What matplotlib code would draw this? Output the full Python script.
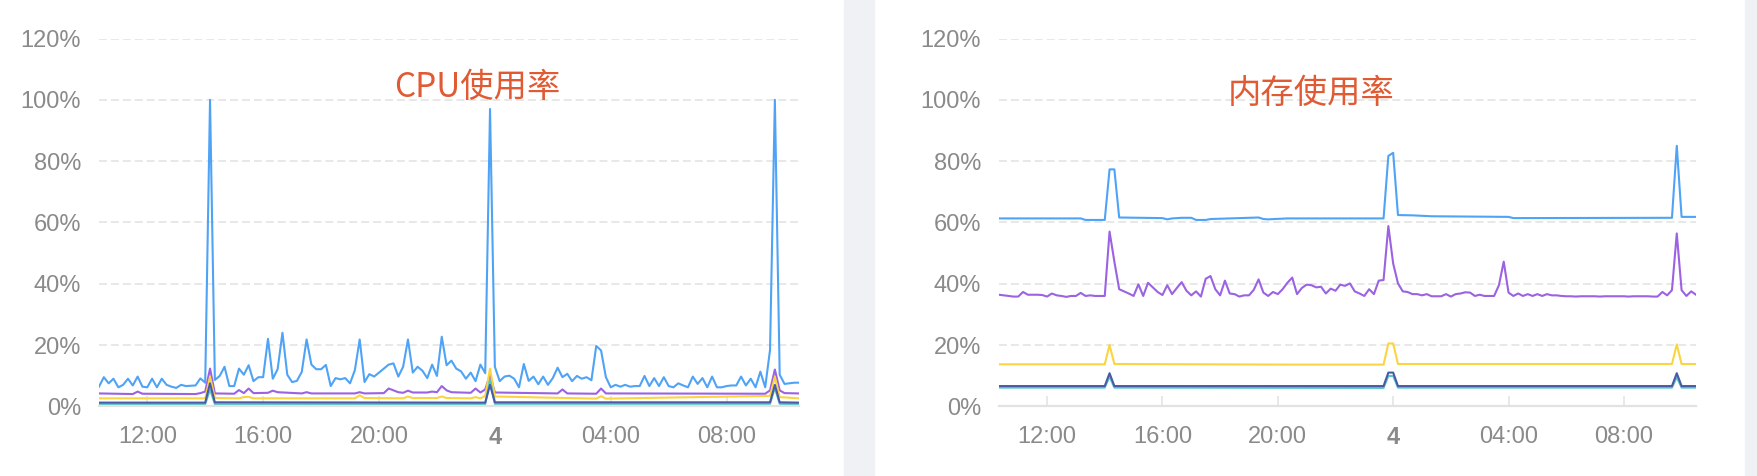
import numpy as np
import matplotlib
matplotlib.use("Agg")
import matplotlib.pyplot as plt
from matplotlib.patches import Rectangle

plt.rcParams['font.family'] = ['Liberation Sans', 'Noto Sans CJK SC', 'DejaVu Sans']

# x: minutos desde las 10:20, una muestra cada 10 min (k = 0..145)
paso = 10
n_muestras = 146

tick_min = [100, 340, 580, 820, 1060, 1300]
tick_txt = ["12:00", "16:00", "20:00", "4", "04:00", "08:00"]
y_ticks = [0, 20, 40, 60, 80, 100, 120]

# ---------------- CPU使用率 ----------------
cpu_azul = [
    6.4, 9.5, 7.5, 9.0, 6.2, 7.0, 9.0, 6.8, 9.7, 6.4,
    6.2, 9.0, 6.2, 9.0, 7.0, 6.4, 6.0, 7.0, 6.6, 6.7,
    6.8, 9.1, 7.7, 100, 8.6, 9.9, 12.9, 6.6, 6.6, 12.3,
    10.3, 13.4, 8.2, 9.5, 9.5, 22.0, 9.0, 12.1, 24.0, 10.3,
    7.9, 8.3, 11.2, 21.8, 13.6, 12.1, 12.1, 13.5, 6.6, 9.2,
    8.8, 9.2, 7.5, 11.8, 21.8, 7.9, 10.5, 9.7, 11.0, 12.3,
    13.6, 14.0, 9.7, 12.9, 21.8, 11.0, 12.9, 11.6, 9.2, 13.6,
    9.9, 22.7, 13.4, 14.9, 12.3, 11.4, 9.0, 11.0, 8.2, 13.6,
    10.8, 97.0, 12.9, 8.2, 9.7, 10.0, 9.0, 6.2, 13.8, 8.3,
    9.7, 7.2, 9.7, 7.0, 9.2, 12.6, 9.5, 10.6, 8.2, 9.9,
    9.0, 9.5, 8.5, 19.7, 18.2, 9.5, 6.2, 7.0, 6.4, 7.0,
    6.4, 6.6, 6.6, 9.9, 6.6, 9.2, 6.6, 9.5, 6.6, 6.2,
    7.5, 6.8, 6.2, 9.7, 7.3, 9.2, 6.2, 9.7, 6.2, 6.2,
    6.6, 6.8, 6.8, 9.7, 6.8, 9.0, 6.2, 11.3, 6.2, 18.4,
    100, 10.3, 7.3, 7.5, 7.7, 7.7,
]

cpu_morado_k = [0, 7, 8, 9, 20, 21, 22, 23, 24, 28, 29, 30, 31, 32, 35, 36, 37,
                42, 43, 44, 53, 54, 55, 59, 60, 61, 62, 63, 64, 65, 68, 69, 70,
                71, 72, 73, 77, 78, 79, 80, 81, 82, 95, 96, 97, 103, 104, 105,
                138, 139, 140, 141, 142, 145]
cpu_morado = [4.2, 4.0, 4.8, 4.1, 4.0, 4.3, 4.8, 12.3, 4.2, 4.1, 5.3, 4.3, 5.8,
              4.3, 4.4, 5.1, 4.6, 4.2, 4.6, 4.2, 4.2, 4.6, 4.2, 4.3, 5.8, 5.2,
              4.6, 4.4, 5.1, 4.5, 4.5, 4.8, 4.6, 6.6, 5.2, 4.6, 4.4, 5.8, 4.5,
              5.5, 10.3, 4.5, 4.2, 5.5, 4.2, 4.1, 5.8, 4.2, 4.1, 5.2, 12.0, 5.2,
              4.3, 4.2]

cpu_amarillo_k = [0, 22, 23, 24, 29, 30, 31, 32, 53, 54, 55, 63, 64, 65, 70, 71,
                  72, 77, 78, 79, 80, 81, 82, 103, 104, 105, 139, 140, 141, 145]
cpu_amarillo = [2.6, 2.6, 9.6, 2.7, 2.6, 3.0, 3.1, 2.6, 2.6, 3.6, 2.7, 2.6, 3.2,
                2.7, 2.7, 3.2, 2.7, 2.6, 3.0, 2.6, 3.4, 12.3, 3.2, 2.5, 3.3, 2.5,
                3.4, 9.6, 3.0, 2.6]

cpu_bajo_k = [0, 22, 23, 24, 80, 81, 82, 139, 140, 141, 145]
cpu_marino = [1.2, 1.2, 7.5, 1.3, 1.2, 7.0, 1.3, 1.3, 7.0, 1.3, 1.2]
cpu_turquesa = [0.7, 0.7, 5.5, 0.7, 0.7, 8.6, 0.8, 0.8, 6.0, 0.8, 0.7]

# ---------------- 内存使用率 ----------------
mem_azul_k = [0, 17, 18, 22, 23, 24, 25, 34, 35, 36, 38, 40, 41, 43, 44, 54, 55,
              56, 60, 80, 81, 82, 83, 86, 90, 106, 107, 140, 141, 142, 145]
mem_azul = [61.3, 61.3, 60.8, 60.8, 77.3, 77.3, 61.6, 61.4, 61.0, 61.3, 61.5,
            61.5, 60.8, 60.8, 61.1, 61.6, 61.1, 61.0, 61.3, 61.3, 81.7, 82.7,
            62.4, 62.3, 62.0, 61.8, 61.4, 61.5, 85.0, 61.8, 61.8]

mem_morado = [
    36.4, 36.2, 36.0, 35.8, 35.8, 37.3, 36.4, 36.4, 36.4, 36.3,
    35.8, 36.8, 36.2, 36.0, 35.7, 36.0, 36.0, 37.0, 36.0, 36.2,
    36.0, 36.0, 36.0, 57.0, 47.2, 38.2, 37.5, 36.8, 36.0, 39.8,
    36.0, 40.3, 38.8, 37.3, 36.3, 39.5, 36.6, 38.6, 40.5, 37.7,
    36.2, 37.5, 35.8, 41.6, 42.5, 38.2, 36.2, 41.0, 36.8,
    36.6, 35.8, 36.2, 36.2, 38.0, 41.4, 37.1, 36.0, 37.3, 36.6,
    38.2, 40.3, 42.0, 36.6, 38.6, 39.7, 39.5, 38.8, 39.0, 36.8,
    38.4, 37.7, 39.7, 39.3, 40.1, 37.5, 36.8, 36.0, 38.2, 36.6,
    41.0, 41.2, 58.8, 46.6, 40.1, 37.5, 37.3, 36.6, 36.6, 36.2,
    36.6, 35.9, 35.9, 35.9, 36.6, 35.8, 36.6, 36.8, 37.2,
    37.1, 36.0, 36.4, 36.0, 36.0, 36.0, 39.5, 47.2, 37.1, 36.0,
    36.8, 36.0, 36.6, 36.0, 36.6, 36.0, 36.6, 36.2, 36.2, 36.0,
    35.9, 35.9, 35.8, 35.9, 35.9, 35.9, 35.9, 35.8, 35.9, 35.9,
    35.9, 35.9, 35.9, 35.8, 35.9, 35.9, 35.9, 35.9, 35.8, 35.8,
    37.3, 36.2, 37.9, 56.4, 37.9, 36.0, 37.5, 36.4,
]

mem_amarillo_k = [0, 22, 23, 24, 60, 80, 81, 82, 83, 140, 141, 142, 145]
mem_amarillo = [13.7, 13.7, 20.0, 13.8, 13.6, 13.6, 20.5, 20.5, 13.8, 13.8,
                20.2, 13.8, 13.8]

mem_bajo_k = [0, 22, 23, 24, 80, 81, 82, 83, 140, 141, 142, 145]
mem_marino = [6.6, 6.6, 10.8, 6.6, 6.6, 11.0, 11.0, 6.6, 6.6, 10.8, 6.6, 6.6]
mem_turquesa = [6.1, 6.1, 9.7, 6.1, 6.0, 9.9, 9.9, 6.1, 6.1, 9.5, 6.1, 6.1]

# colores
c_azul = "#4fa3f7"
c_morado = "#9b62e2"
c_amarillo = "#fad540"
c_marino = "#4a5aa6"
c_turquesa = "#56c6c8"
c_gris = "#8a8a8a"
c_grid = "#e2e2e2"
c_titulo = "#e05a33"

W, H = 1758, 476
fig = plt.figure(figsize=(W / 100, H / 100), dpi=100)
fig.patch.set_facecolor("white")

# franjas grises entre paneles
fig.patches.append(Rectangle((844 / W, 0), 30 / W, 1, transform=fig.transFigure,
                             color="#eff1f5", zorder=0))
fig.patches.append(Rectangle((1745 / W, 0), 13 / W, 1, transform=fig.transFigure,
                             color="#eff1f5", zorder=0))

y0 = (H - 406.3) / H
y1 = (H - 38.5) / H


def kx(k):
    return np.array(k) * paso


def preparar(ax):
    ax.set_xlim(0, (n_muestras - 1) * paso)
    ax.set_ylim(0, 120)
    ax.set_yticks(y_ticks)
    ax.set_yticklabels([f"{v}%" for v in y_ticks])
    ax.set_xticks(tick_min)
    ax.set_xticklabels(tick_txt)
    for lab in ax.get_xticklabels():
        if lab.get_text() == "4":
            lab.set_fontweight("bold")
    ax.yaxis.grid(True, color=c_grid, lw=1.1, linestyle=(0, (5.2, 2.6)))
    ax.set_axisbelow(True)
    for s in ["top", "right", "left"]:
        ax.spines[s].set_visible(False)
    ax.spines["bottom"].set_color(c_grid)
    ax.spines["bottom"].set_linewidth(1.6)
    ax.tick_params(axis="x", direction="in", length=7, width=1.1, color=c_grid,
                   pad=14.5, labelsize=17, labelcolor=c_gris)
    ax.tick_params(axis="y", length=0, pad=13, labelsize=17, labelcolor=c_gris)


# panel CPU
ax1 = fig.add_axes([99 / W, y0, 700 / W, y1 - y0])
preparar(ax1)
ax1.plot(kx(range(n_muestras)), cpu_azul, color=c_azul, lw=1.5)
ax1.plot(kx(cpu_morado_k), cpu_morado, color=c_morado, lw=1.5)
ax1.plot(kx(cpu_amarillo_k), cpu_amarillo, color=c_amarillo, lw=1.5)
ax1.plot(kx(cpu_bajo_k), cpu_turquesa, color=c_turquesa, lw=1.5)
ax1.plot(kx(cpu_bajo_k), cpu_marino, color=c_marino, lw=1.5)

# panel memoria
ax2 = fig.add_axes([999 / W, y0, 697 / W, y1 - y0])
preparar(ax2)
ax2.plot(kx(mem_azul_k), mem_azul, color=c_azul, lw=1.5)
ax2.plot(kx(range(n_muestras)), mem_morado, color=c_morado, lw=1.5)
ax2.plot(kx(mem_amarillo_k), mem_amarillo, color=c_amarillo, lw=1.5)
ax2.plot(kx(mem_bajo_k), mem_turquesa, color=c_turquesa, lw=1.5)
ax2.plot(kx(mem_bajo_k), mem_marino, color=c_marino, lw=1.5)

# titulos
fig.text(477 / W, 1 - 87 / H, "CPU使用率", color=c_titulo, fontsize=24,
         ha="center", va="center", family=["Noto Sans CJK SC", "DejaVu Sans"])
fig.text(1311 / W, 1 - 94 / H, "内存使用率", color=c_titulo, fontsize=24,
         ha="center", va="center", family=["Noto Sans CJK SC", "DejaVu Sans"])

fig.savefig("out.png", dpi=100)
